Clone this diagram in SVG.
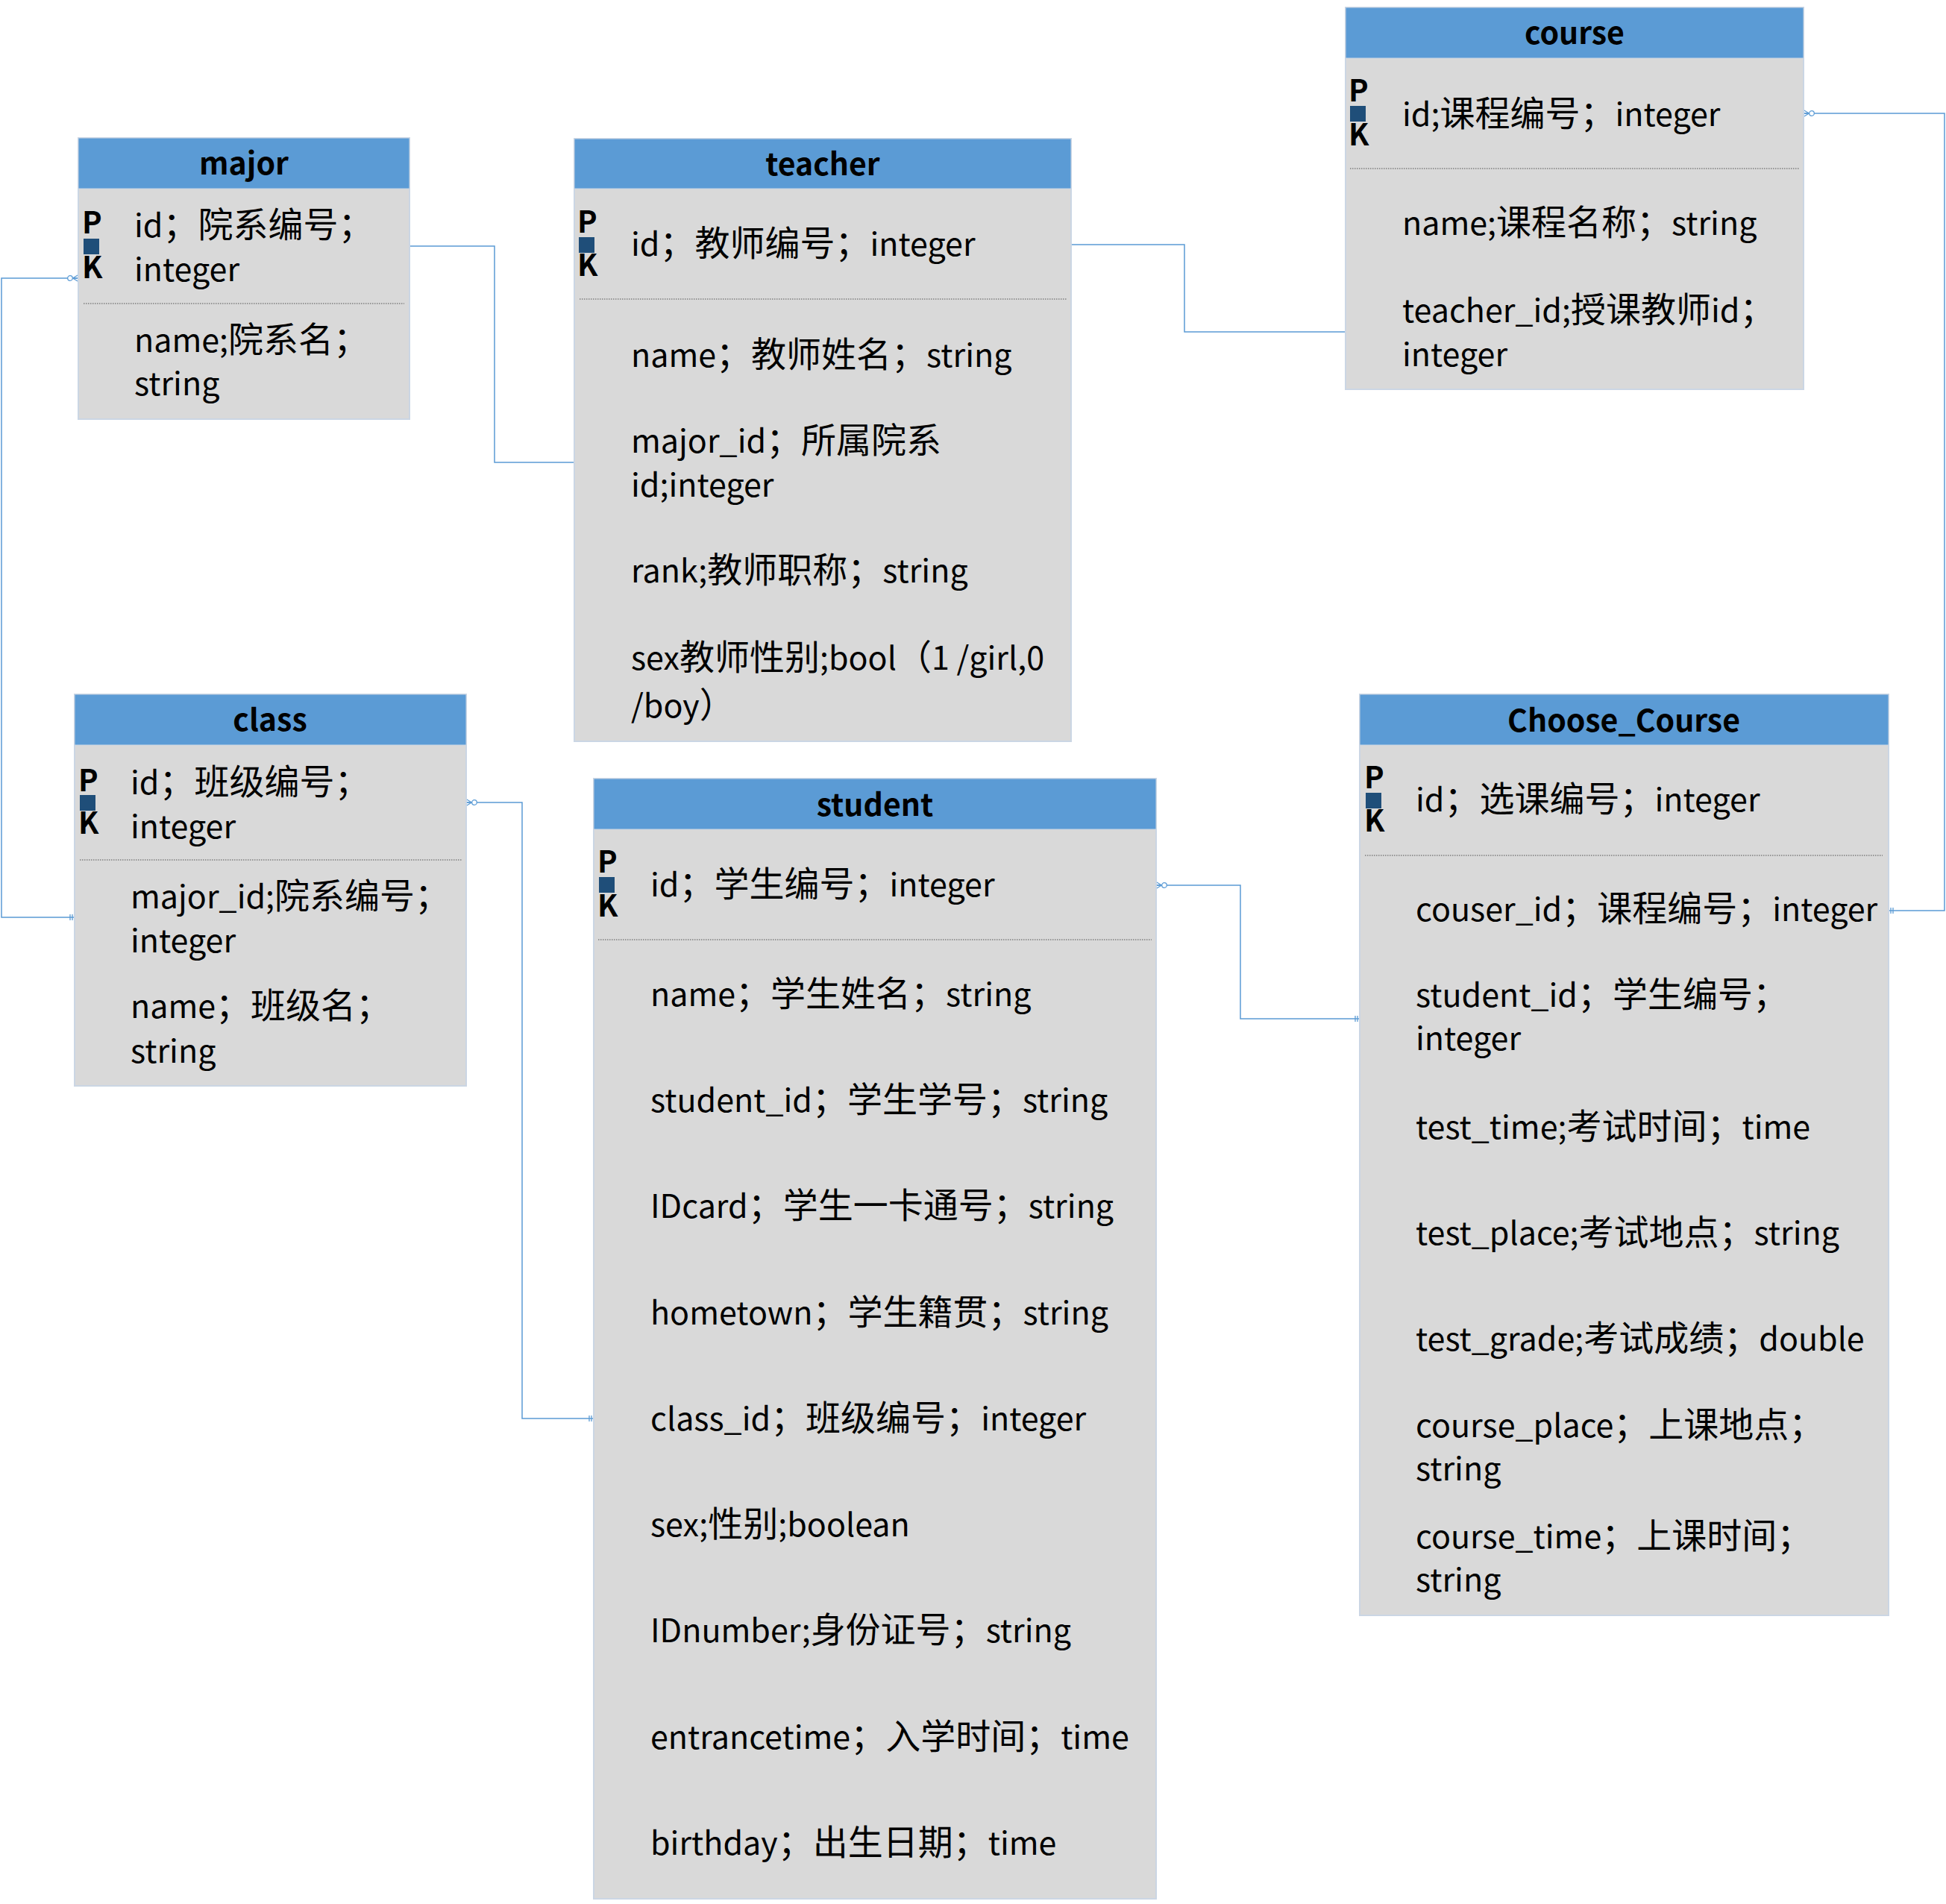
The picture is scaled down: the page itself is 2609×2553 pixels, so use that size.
<svg xmlns="http://www.w3.org/2000/svg" width="2609" height="2553" viewBox="0 0 2609 2553">
<style>
.body{fill:#D9D9D9;stroke:#CBD6E4;stroke-width:2}
.head{fill:#5B9BD5;stroke:#CBD6E4;stroke-width:1}
.title{font-family:"Noto Sans CJK SC","Liberation Sans",sans-serif;font-weight:700;font-size:41px;fill:#000;text-anchor:middle}
.t{font-family:"Noto Sans CJK SC","Liberation Sans",sans-serif;font-size:43px;fill:#000}
.c{font-size:47px}
.pk{font-family:"Noto Sans CJK SC","Liberation Sans",sans-serif;font-weight:700;font-size:40px;fill:#000}
.sq{fill:#1F4E79}
.sep{stroke:#555;stroke-width:1.2;stroke-dasharray:1.5 1.5;fill:none}
.con{fill:none;stroke:#5B9BD5;stroke-width:1.5}
.mk{fill:none;stroke:#5B9BD5;stroke-width:1.3}
</style>
<defs>
<marker id="crow" markerUnits="userSpaceOnUse" viewBox="-18 -8 20 16" refX="0" refY="0" markerWidth="20" markerHeight="16" orient="auto-start-reverse">
<path class="mk" d="M-7.5 0 L0 -4.5 M-7.5 0 L0 0 M-7.5 0 L0 4.5"/>
<circle cx="-11" cy="0" r="3.3" fill="#fff" stroke="#5B9BD5" stroke-width="1.3"/>
</marker>
<marker id="bars" markerUnits="userSpaceOnUse" viewBox="-12 -8 14 16" refX="0" refY="0" markerWidth="14" markerHeight="16" orient="auto">
<path class="mk" d="M-3 -4 V4 M-6 -4 V4"/>
</marker>
</defs>
<rect width="2609" height="2553" fill="#fff"/>

<g id="connectors">
<path class="con" d="M549 330 H663 V620 H770"/>
<path class="con" d="M1436 328 H1588 V445 H1804"/>
<path class="con" d="M2418 152 H2607 V1221 H2532" marker-start="url(#crow)" marker-end="url(#bars)"/>
<path class="con" d="M105 373 H2 V1230 H100" marker-start="url(#crow)" marker-end="url(#bars)"/>
<path class="con" d="M625 1076 H700 V1902 H796" marker-start="url(#crow)" marker-end="url(#bars)"/>
<path class="con" d="M1550 1187 H1663 V1366 H1823" marker-start="url(#crow)" marker-end="url(#bars)"/>
</g>

<g id="major">
<rect class="body" x="105" y="185" width="444" height="377"/>
<rect class="head" x="105" y="185" width="444" height="68"/>
<text class="title" x="327" y="234">major</text>
<text class="pk" x="110" y="313">P</text>
<rect class="sq" x="112" y="320" width="21" height="21"/>
<text class="pk" x="110" y="373">K</text>
<text class="t" x="180" y="318">id<tspan class="c">；院系编号；</tspan></text>
<text class="t" x="180" y="377">integer</text>
<line class="sep" x1="112" y1="407" x2="542" y2="407"/>
<text class="t" x="180" y="472">name;<tspan class="c">院系名；</tspan></text>
<text class="t" x="180" y="530">string</text>
</g>

<g id="teacher">
<rect class="body" x="770" y="186" width="666" height="808"/>
<rect class="head" x="770" y="186" width="666" height="67"/>
<text class="title" x="1103" y="235">teacher</text>
<text class="pk" x="774" y="312">P</text>
<rect class="sq" x="776" y="318" width="21" height="21"/>
<text class="pk" x="774" y="370">K</text>
<text class="t" x="846" y="343">id<tspan class="c">；教师编号；</tspan>integer</text>
<line class="sep" x1="777" y1="401" x2="1430" y2="401"/>
<text class="t" x="846" y="492">name<tspan class="c">；教师姓名；</tspan>string</text>
<text class="t" x="846" y="607">major_id<tspan class="c">；所属院系</tspan></text>
<text class="t" x="846" y="666">id;integer</text>
<text class="t" x="846" y="781">rank;<tspan class="c">教师职称；</tspan>string</text>
<text class="t" x="846" y="898">sex<tspan class="c">教师性别</tspan>;bool<tspan class="c">（</tspan>1 /girl,0</text>
<text class="t" x="846" y="962">/boy<tspan class="c">）</tspan></text>
</g>

<g id="course">
<rect class="body" x="1804" y="10" width="614" height="512"/>
<rect class="head" x="1804" y="10" width="614" height="68"/>
<text class="title" x="2111" y="59">course</text>
<text class="pk" x="1808" y="136">P</text>
<rect class="sq" x="1810" y="142" width="21" height="21"/>
<text class="pk" x="1808" y="195">K</text>
<text class="t" x="1880" y="169">id;<tspan class="c">课程编号；</tspan>integer</text>
<line class="sep" x1="1810" y1="226" x2="2412" y2="226"/>
<text class="t" x="1880" y="315">name;<tspan class="c">课程名称；</tspan>string</text>
<text class="t" x="1880" y="432">teacher_id;<tspan class="c">授课教师</tspan>id<tspan class="c">；</tspan></text>
<text class="t" x="1880" y="491">integer</text>
</g>

<g id="class">
<rect class="body" x="100" y="931" width="525" height="525"/>
<rect class="head" x="100" y="931" width="525" height="68"/>
<text class="title" x="362" y="980">class</text>
<text class="pk" x="105" y="1061">P</text>
<rect class="sq" x="107" y="1066" width="21" height="21"/>
<text class="pk" x="105" y="1118">K</text>
<text class="t" x="175" y="1065">id<tspan class="c">；班级编号；</tspan></text>
<text class="t" x="175" y="1124">integer</text>
<line class="sep" x1="107" y1="1153" x2="619" y2="1153"/>
<text class="t" x="175" y="1218">major_id;<tspan class="c">院系编号；</tspan></text>
<text class="t" x="175" y="1277">integer</text>
<text class="t" x="175" y="1365">name<tspan class="c">；班级名；</tspan></text>
<text class="t" x="175" y="1425">string</text>
</g>

<g id="Choose_Course">
<rect class="body" x="1823" y="931" width="709" height="1235"/>
<rect class="head" x="1823" y="931" width="709" height="68"/>
<text class="title" x="2177" y="981">Choose_Course</text>
<text class="pk" x="1829" y="1057">P</text>
<rect class="sq" x="1831" y="1063" width="21" height="21"/>
<text class="pk" x="1829" y="1115">K</text>
<text class="t" x="1898" y="1088">id<tspan class="c">；选课编号；</tspan>integer</text>
<line class="sep" x1="1830" y1="1147" x2="2524" y2="1147"/>
<text class="t" x="1898" y="1235">couser_id<tspan class="c">；课程编号；</tspan>integer</text>
<text class="t" x="1898" y="1350">student_id<tspan class="c">；学生编号；</tspan></text>
<text class="t" x="1898" y="1408">integer</text>
<text class="t" x="1898" y="1527">test_time;<tspan class="c">考试时间；</tspan>time</text>
<text class="t" x="1898" y="1669">test_place;<tspan class="c">考试地点；</tspan>string</text>
<text class="t" x="1898" y="1811">test_grade;<tspan class="c">考试成绩；</tspan>double</text>
<text class="t" x="1898" y="1927">course_place<tspan class="c">；上课地点；</tspan></text>
<text class="t" x="1898" y="1985">string</text>
<text class="t" x="1898" y="2076">course_time<tspan class="c">；上课时间；</tspan></text>
<text class="t" x="1898" y="2134">string</text>
</g>

<g id="student">
<rect class="body" x="796" y="1044" width="754" height="1502"/>
<rect class="head" x="796" y="1044" width="754" height="68"/>
<text class="title" x="1173" y="1094">student</text>
<text class="pk" x="801" y="1170">P</text>
<rect class="sq" x="803" y="1176" width="21" height="21"/>
<text class="pk" x="801" y="1229">K</text>
<text class="t" x="872" y="1202">id<tspan class="c">；学生编号；</tspan>integer</text>
<line class="sep" x1="802" y1="1260" x2="1544" y2="1260"/>
<text class="t" x="872" y="1349">name<tspan class="c">；学生姓名；</tspan>string</text>
<text class="t" x="872" y="1491">student_id<tspan class="c">；学生学号；</tspan>string</text>
<text class="t" x="872" y="1633">IDcard<tspan class="c">；学生一卡通号；</tspan>string</text>
<text class="t" x="872" y="1776">hometown<tspan class="c">；学生籍贯；</tspan>string</text>
<text class="t" x="872" y="1918">class_id<tspan class="c">；班级编号；</tspan>integer</text>
<text class="t" x="872" y="2060">sex;<tspan class="c">性别</tspan>;boolean</text>
<text class="t" x="872" y="2202">IDnumber;<tspan class="c">身份证号；</tspan>string</text>
<text class="t" x="872" y="2345">entrancetime<tspan class="c">；入学时间；</tspan>time</text>
<text class="t" x="872" y="2487">birthday<tspan class="c">；出生日期；</tspan>time</text>
</g>
</svg>
